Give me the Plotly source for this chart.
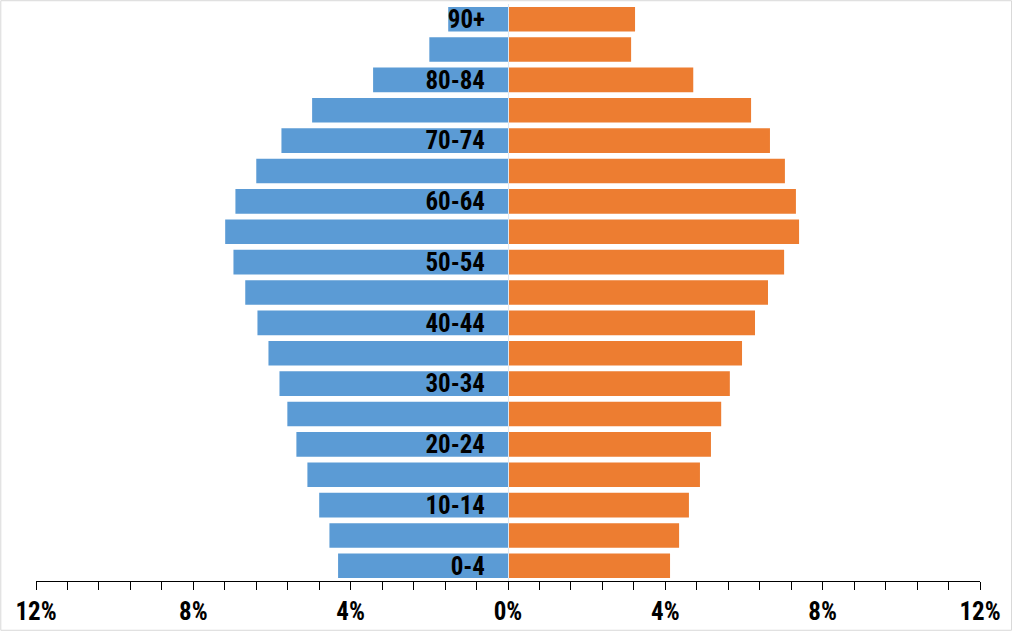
import plotly.graph_objects as go

age_groups = ["0-4", "5-9", "10-14", "15-19", "20-24", "25-29", "30-34", "35-39",
              "40-44", "45-49", "50-54", "55-59", "60-64", "65-69", "70-74", "75-79",
              "80-84", "85-89", "90+"]
left_pct = [4.32, 4.54, 4.80, 5.10, 5.38, 5.61, 5.81, 6.09, 6.37, 6.68, 6.98, 7.19,
            6.93, 6.40, 5.76, 4.98, 3.43, 2.00, 1.52]
right_pct = [4.12, 4.35, 4.60, 4.88, 5.16, 5.42, 5.64, 5.95, 6.28, 6.61, 7.02, 7.40,
             7.32, 7.04, 6.66, 6.18, 4.71, 3.13, 3.23]
x_tick_vals = [-12, -8, -4, 0, 4, 8, 12]
x_tick_text = ["12%", "8%", "4%", "0%", "4%", "8%", "12%"]
y_labels = age_groups[::2]

FONT = "Liberation Sans Narrow, Arial Narrow, Roboto Condensed, Liberation Sans, Arial, sans-serif"

fig = go.Figure()
fig.add_trace(go.Bar(y=age_groups, x=[-v for v in left_pct], orientation="h",
                     marker=dict(color="#5B9BD5", line=dict(width=0)), name="Left"))
fig.add_trace(go.Bar(y=age_groups, x=right_pct, orientation="h",
                     marker=dict(color="#ED7D31", line=dict(width=0)), name="Right"))

fig.update_layout(
    width=1012, height=631,
    margin=dict(l=36, r=32, t=4, b=50),
    barmode="overlay", bargap=0.19,
    plot_bgcolor="white", paper_bgcolor="white",
    showlegend=False,
    font=dict(family=FONT, color="black"),
    xaxis=dict(range=[-12, 12], tickmode="array", tickvals=x_tick_vals, ticktext=x_tick_text,
               showgrid=False, zeroline=False, showline=True, linecolor="black", linewidth=1,
               ticks="outside", ticklen=8, tickcolor="black", tickwidth=1,
               tickfont=dict(family=FONT, size=25, color="black", weight="bold"),
               minor=dict(tickmode="linear", tick0=0, dtick=0.8, ticks="outside",
                          ticklen=8, tickcolor="black", tickwidth=1, showgrid=False),
               fixedrange=True),
    yaxis=dict(type="category", categoryorder="array", categoryarray=age_groups,
               range=[-0.5, len(age_groups) - 0.5],
               anchor="free", position=0.5,
               tickmode="array", tickvals=y_labels, ticktext=y_labels,
               showgrid=False, zeroline=False, showline=True, linecolor="#dce8f4", linewidth=1,
               ticks="", ticklabelstandoff=18,
               tickfont=dict(family=FONT, size=25, color="black", weight="bold"),
               fixedrange=True),
)

fig.add_shape(type="rect", xref="paper", yref="paper",
              x0=-0.0373, x1=1.0334, y0=-0.0854, y1=1.0057,
              line=dict(color="#d9d9d9", width=1), fillcolor="rgba(0,0,0,0)", layer="below")

fig.write_html("out.html", config={"displayModeBar": False},
               post_script="document.body.style.margin='0';document.body.style.overflow='hidden';")
